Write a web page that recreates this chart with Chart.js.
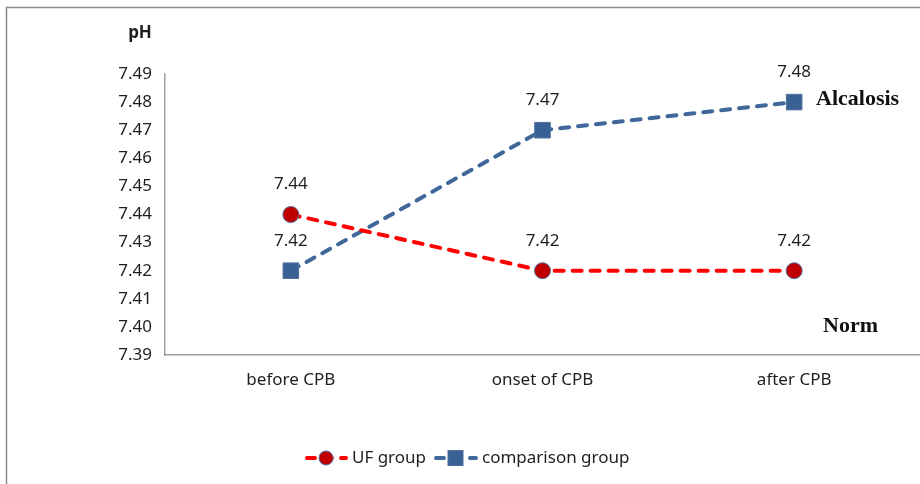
<!DOCTYPE html>
<html>
<head>
<meta charset="utf-8">
<script src="https://cdn.jsdelivr.net/npm/chart.js@4.4.1/dist/chart.umd.min.js"></script>
<style>
  body { margin: 0; background: #fff; }
  #wrap { width: 920px; height: 484px; position: relative; }
</style>
</head>
<body>
<div id="wrap"><canvas id="phChart"></canvas></div>
<script>
// categories and values
var timePoints = ["before CPB", "onset of CPB", "after CPB"];
var ufGroup = [7.44, 7.42, 7.42];
var comparisonGroup = [7.42, 7.47, 7.48];
var yTicks = [7.39, 7.40, 7.41, 7.42, 7.43, 7.44, 7.45, 7.46, 7.47, 7.48, 7.49];

var tickFont = { family: "'Noto Sans', sans-serif", size: 17 };

// frame, value labels, pH title, Alcalosis / Norm notes and the legend
var extras = {
    id: 'extras',
    beforeDraw: function (chart) {
        var c = chart.ctx;
        c.save();
        c.strokeStyle = '#8c8c8c';
        c.lineWidth = 1.5;
        c.strokeRect(6.5, 7.5, 940, 520);
        c.restore();
    },
    afterDatasetsDraw: function (chart) {
        var c = chart.ctx;
        c.save();
        c.fillStyle = '#1e1e1e';
        c.font = "17px 'Noto Sans', sans-serif";
        c.textAlign = 'center';
        c.textBaseline = 'middle';
        chart.data.datasets.forEach(function (ds, i) {
            chart.getDatasetMeta(i).data.forEach(function (pt, j) {
                c.fillText(ds.data[j].toFixed(2), pt.x, pt.y - 30);
            });
        });

        // axis title
        c.font = "bold 17px 'Noto Sans', sans-serif";
        c.fillText('pH', 140, 33);

        // notes
        c.font = "bold 22px 'Liberation Serif', serif";
        c.textAlign = 'left';
        c.fillStyle = '#111';
        c.fillText('Alcalosis', 816, 99);
        c.fillText('Norm', 823, 326);

        // legend
        var ly = 458;
        c.lineWidth = 4;
        c.lineCap = 'round';
        c.setLineDash([8, 9]);
        c.strokeStyle = '#ff0000';
        c.beginPath(); c.moveTo(307, ly); c.lineTo(346, ly); c.stroke();
        c.strokeStyle = '#3f679a';
        c.beginPath(); c.moveTo(436, ly); c.lineTo(476, ly); c.stroke();
        c.setLineDash([]);
        c.lineCap = 'butt';
        c.lineWidth = 1;
        c.fillStyle = '#c00000';
        c.strokeStyle = '#4f6fa0';
        c.beginPath(); c.arc(326, ly, 7, 0, Math.PI * 2); c.fill(); c.stroke();
        c.fillStyle = '#3a6193';
        c.fillRect(448, ly - 7.5, 15, 15);
        c.strokeRect(448, ly - 7.5, 15, 15);
        c.fillStyle = '#1e1e1e';
        c.font = "17px 'Noto Sans', sans-serif";
        c.fillText('UF group', 352, ly);
        c.fillText('comparison group', 482, ly);
        c.restore();
    }
};

var ctx = document.getElementById('phChart').getContext('2d');
var chart = new Chart(ctx, {
    type: 'line',
    data: {
        labels: timePoints,
        datasets: [{
            label: 'UF group',
            data: ufGroup,
            borderColor: '#ff0000',
            borderWidth: 4,
            borderDash: [9, 9],
            borderCapStyle: 'round',
            pointStyle: 'circle',
            pointRadius: 8,
            pointBackgroundColor: '#c00000',
            pointBorderColor: '#4f6fa0',
            pointBorderWidth: 1,
            tension: 0
        }, {
            label: 'comparison group',
            data: comparisonGroup,
            borderColor: '#3f679a',
            borderWidth: 4,
            borderDash: [9, 9],
            borderCapStyle: 'round',
            pointStyle: 'rect',
            pointRadius: 11,
            pointBackgroundColor: '#3a6193',
            pointBorderColor: '#4f6fa0',
            pointBorderWidth: 1,
            tension: 0
        }]
    },
    options: {
        responsive: true,
        maintainAspectRatio: false,
        animation: false,
        layout: { autoPadding: false, padding: { top: 74, right: 0, bottom: 0, left: 0 } },
        plugins: {
            legend: { display: false },
            tooltip: { enabled: false }
        },
        scales: {
            x: {
                offset: true,
                grid: { display: false, drawTicks: false },
                border: { color: '#a0a0a0', width: 1.5 },
                ticks: { color: '#1e1e1e', font: tickFont, padding: 15 },
                afterFit: function (scale) {
                    scale.height = 129;
                    scale.paddingLeft = 0;
                    scale.paddingRight = 0;
                }
            },
            y: {
                min: 7.39,
                max: 7.49,
                grid: { display: false, drawTicks: false },
                border: { color: '#a0a0a0', width: 1.5 },
                afterBuildTicks: function (scale) {
                    scale.ticks = yTicks.map(function (v) { return { value: v }; });
                },
                ticks: {
                    color: '#1e1e1e',
                    font: tickFont,
                    padding: 13,
                    callback: function (v) { return Number(v).toFixed(2); }
                },
                afterFit: function (scale) { scale.width = 165; }
            }
        }
    },
    plugins: [extras]
});
</script>
</body>
</html>
